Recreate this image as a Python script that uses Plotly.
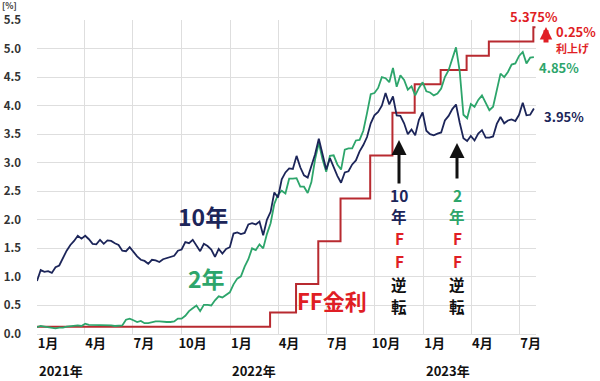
import pandas as pd
import plotly.graph_objects as go

# ---- data (weekly Friday closes) ----
week_dates = pd.date_range("2021-01-01", "2023-07-28", freq="W-FRI")

yield_10y = [
    # 2021
    0.93, 1.12, 1.09, 1.10, 1.07, 1.17, 1.20, 1.34, 1.46, 1.56, 1.63, 1.72, 1.67,
    1.72, 1.66, 1.58, 1.57, 1.65, 1.58, 1.64, 1.63, 1.59, 1.56, 1.46, 1.45, 1.52,
    1.43, 1.36, 1.30, 1.28, 1.23, 1.30, 1.29, 1.26, 1.31, 1.33, 1.35, 1.37, 1.46,
    1.48, 1.61, 1.59, 1.65, 1.55, 1.45, 1.58, 1.54, 1.48, 1.35, 1.49, 1.41, 1.49, 1.52,
    # 2022
    1.76, 1.78, 1.75, 1.77, 1.92, 1.94, 1.92, 1.97, 1.73, 2.00, 2.14, 2.48, 2.39,
    2.71, 2.83, 2.90, 2.89, 3.12, 2.92, 2.78, 2.74, 2.94, 3.15, 3.42, 3.13, 2.88,
    3.08, 2.92, 2.77, 2.65, 2.83, 2.85, 2.97, 3.04, 3.20, 3.31, 3.45, 3.69, 3.83,
    3.89, 4.00, 4.22, 4.02, 4.16, 3.83, 3.82, 3.69, 3.50, 3.58, 3.48, 3.75, 3.88,
    # 2023
    3.56, 3.50, 3.48, 3.51, 3.53, 3.74, 3.82, 3.94, 4.02, 3.70, 3.43, 3.38, 3.47,
    3.39, 3.51, 3.57, 3.44, 3.44, 3.46, 3.68, 3.80, 3.69, 3.74, 3.76, 3.73, 3.84,
    4.05, 3.83, 3.84, 3.95,
]

yield_2y = [
    # 2021
    0.12, 0.14, 0.13, 0.12, 0.11, 0.10, 0.11, 0.11, 0.13, 0.14, 0.15, 0.15, 0.14,
    0.18, 0.16, 0.16, 0.16, 0.16, 0.15, 0.15, 0.15, 0.14, 0.14, 0.15, 0.25, 0.27,
    0.24, 0.21, 0.23, 0.19, 0.19, 0.21, 0.22, 0.22, 0.21, 0.21, 0.21, 0.22, 0.27,
    0.27, 0.32, 0.40, 0.45, 0.50, 0.40, 0.51, 0.51, 0.50, 0.59, 0.66, 0.64, 0.69, 0.73,
    # 2022
    0.87, 0.97, 1.01, 1.18, 1.31, 1.50, 1.47, 1.57, 1.50, 1.75, 1.94, 2.28, 2.44,
    2.51, 2.46, 2.72, 2.72, 2.73, 2.58, 2.58, 2.47, 2.66, 3.06, 3.35, 3.06, 2.84,
    3.12, 3.13, 2.97, 2.88, 3.23, 3.25, 3.25, 3.39, 3.40, 3.56, 3.87, 4.20, 4.22,
    4.31, 4.50, 4.48, 4.41, 4.66, 4.33, 4.53, 4.45, 4.28, 4.34, 4.18, 4.31, 4.41,
    # 2023
    4.25, 4.23, 4.18, 4.21, 4.30, 4.50, 4.62, 4.81, 5.02, 4.60, 3.84, 3.78, 4.03,
    3.98, 4.10, 4.18, 4.04, 3.92, 3.98, 4.28, 4.56, 4.50, 4.59, 4.72, 4.74, 4.87,
    4.94, 4.74, 4.84, 4.85,
]

ff_dates = ["2021-01-01", "2022-03-17", "2022-05-05", "2022-06-16", "2022-07-28",
            "2022-09-22", "2022-11-03", "2022-12-15", "2023-02-02", "2023-03-23",
            "2023-05-04", "2023-07-27", "2023-07-31"]
ff_rate = [0.125, 0.375, 0.875, 1.625, 2.375, 3.125, 3.875, 4.375, 4.625, 4.875,
           5.125, 5.375, 5.375]

x_tick_dates = ["2021-01-01", "2021-04-01", "2021-07-01", "2021-10-01",
                "2022-01-01", "2022-04-01", "2022-07-01", "2022-10-01",
                "2023-01-01", "2023-04-01", "2023-07-01"]
x_tick_text = ["1月", "4月", "7月", "10月", "1月", "4月", "7月", "10月", "1月", "4月", "7月"]
year_labels = ["2021年", "2022年", "2023年"]
year_dates = ["2021-01-01", "2022-01-01", "2023-01-01"]
y_ticks = [0, 0.5, 1.0, 1.5, 2.0, 2.5, 3.0, 3.5, 4.0, 4.5, 5.0, 5.5]

inv_10y_chars = ["10", "年", "F", "F", "逆", "転"]
inv_2y_chars = ["2", "年", "F", "F", "逆", "転"]

# ---- styles ----
NAVY = "#1c2559"
GREEN = "#2da56b"
RED_LINE = "#b82a30"
RED_TXT = "#e01e25"
BLACK = "#111111"
FONT = "Noto Sans CJK JP"

W, H = 600, 381
L, R, T, B = 37, 536, 20, 334


def px(xp):
    return (xp - L) / (R - L)


def py(yp):
    return (B - yp) / (B - T)


fig = go.Figure()
fig.add_trace(go.Scatter(x=ff_dates, y=ff_rate, mode="lines", line_shape="hv",
                         line=dict(color=RED_LINE, width=2), hoverinfo="skip"))
fig.add_trace(go.Scatter(x=week_dates, y=yield_2y, mode="lines",
                         line=dict(color=GREEN, width=1.8), hoverinfo="skip"))
fig.add_trace(go.Scatter(x=week_dates, y=yield_10y, mode="lines",
                         line=dict(color=NAVY, width=1.8), hoverinfo="skip"))

ann = []


def txt(text, xp, yp, size, color, xanchor="center", yanchor="middle"):
    ann.append(dict(text=text, x=px(xp), y=py(yp), xref="paper", yref="paper",
                    showarrow=False, xanchor=xanchor, yanchor=yanchor, borderpad=0,
                    font=dict(family=FONT, size=size, color=color, weight="bold")))


txt("[%]", 1, 5.5, 8.5, "#333333", xanchor="left")
txt("10年", 177, 216, 23, NAVY, xanchor="left")
txt("2年", 187, 278, 23, GREEN, xanchor="left")
txt("FF金利", 296, 300, 22, RED_TXT, xanchor="left")
txt("5.375%", 534, 16, 13, RED_TXT)
txt("0.25%", 555, 32, 13, RED_TXT, xanchor="left")
txt("利上げ", 555, 48, 11, RED_TXT, xanchor="left")
txt("4.85%", 538, 68, 13, GREEN, xanchor="left")
txt("3.95%", 543, 116, 13, NAVY, xanchor="left")

char_y = [195, 216, 238, 261, 284, 306]
col1_colors = [NAVY, NAVY, RED_TXT, RED_TXT, BLACK, BLACK]
col2_colors = [GREEN, GREEN, RED_TXT, RED_TXT, BLACK, BLACK]
for ch, yy, c in zip(inv_10y_chars, char_y, col1_colors):
    txt(ch, 399, yy, 15.5, c)
for ch, yy, c in zip(inv_2y_chars, char_y, col2_colors):
    txt(ch, 457, yy, 15.5, c)

# arrows
for xa, y_head, y_tail, col, w, sz in [(399, 140, 185, BLACK, 3, 1.0),
                                        (457, 143, 180, BLACK, 3, 1.0),
                                        (546, 27, 44, RED_TXT, 5, 0.5)]:
    ann.append(dict(x=px(xa), y=py(y_head), xref="paper", yref="paper",
                    ax=0, ay=y_tail - y_head, showarrow=True, arrowhead=2,
                    arrowsize=sz, arrowwidth=w, arrowcolor=col, text=""))

for lab, d in zip(year_labels, year_dates):
    ann.append(dict(text=lab, x=d, y=py(370), xref="x", yref="paper",
                    showarrow=False, xanchor="left", yanchor="middle",
                    font=dict(family=FONT, size=13, color=BLACK, weight="bold")))

fig.update_layout(
    width=W, height=H,
    margin=dict(l=L, r=W - R, t=T, b=H - B),
    paper_bgcolor="white", plot_bgcolor="white",
    showlegend=False,
    annotations=ann,
    font=dict(family=FONT),
)
fig.update_xaxes(
    type="date", range=["2021-01-01", "2023-08-01"], automargin=False,
    tickmode="array", tickvals=x_tick_dates, ticktext=x_tick_text,
    ticklabelshift=11, ticks="",
    tickfont=dict(family=FONT, size=13, color=BLACK, weight="bold"),
    showgrid=True, gridcolor="#dedede", gridwidth=1,
    showline=False, zeroline=False,
)
fig.update_yaxes(
    range=[0, 5.5], tickmode="array", tickvals=y_ticks, tickformat=".1f",
    automargin=False, ticks="", ticklabelstandoff=15,
    tickfont=dict(family=FONT, size=11.5, color="#333333", weight="bold"),
    showgrid=True, gridcolor="#dedede", gridwidth=1,
    zeroline=True, zerolinecolor="#dedede", zerolinewidth=1, showline=False,
)

fig.write_html("out.html")
